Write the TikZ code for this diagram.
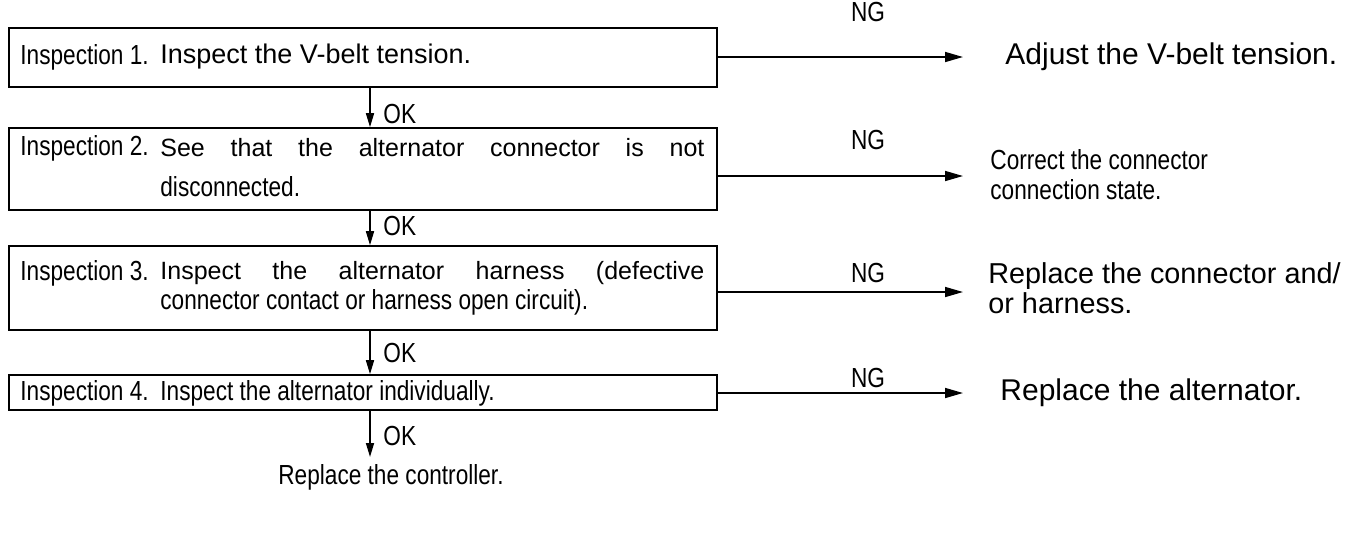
\documentclass[tikz,border=0pt]{standalone}
\usepackage{fontspec}
\setmainfont{Liberation Sans}
\newfontfamily\narrowf[FakeStretch=0.82]{Liberation Sans}
\usetikzlibrary{fit,arrows.meta}
\begin{document}
\begin{tikzpicture}[x=0.5pt,y=-0.5pt,
  box/.style={draw,line width=0.8pt,inner sep=0pt,fit={#1}},
  txt/.style={inner sep=0pt,anchor=west,font=\narrowf\fontsize{13.8}{15}\selectfont},
  ngl/.style={inner sep=0pt,font=\narrowf\fontsize{13.8}{15}\selectfont},
  harr/.style={line width=0.8pt,-{Triangle[length=9pt,width=5pt]}},
  varr/.style={line width=0.8pt,-{Triangle[length=7pt,width=4pt]}}]
\useasboundingbox (0,0) rectangle (1349,547);
% boxes
\node[box={(9,28) (717,87)}] (b1) {};
\node[box={(9,128) (717,210)}] (b2) {};
\node[box={(9,246) (717,330)}] (b3) {};
\node[box={(9,375) (717,410)}] (b4) {};
% box texts
\node[txt] (l1) at (20,57) {Inspection 1.};
\node[txt,font=\fontsize{13.5}{15}\selectfont] (t1) at (160,57) {Inspect the V-belt tension.};
\node[txt] (l2) at (20,148) {Inspection 2.};
\node[txt,align=left,font=\narrowf\fontsize{13.8}{20}\selectfont] (t2) at (160,168) {\makebox[272pt][s]{\rmfamily\fontsize{12.5}{20}\selectfont See that the alternator connector is not}\\disconnected.};
\node[txt] (l3) at (20,273) {Inspection 3.};
\node[txt,align=left] (t3) at (160,288) {\makebox[272pt][s]{\rmfamily\fontsize{12.5}{15}\selectfont Inspect the alternator harness (defective}\\connector contact or harness open circuit).};
\node[txt] (l4) at (20,393) {Inspection 4.};
\node[txt] (t4) at (160,393) {Inspect the alternator individually.};
% results
\node[txt,font=\fontsize{15}{17}\selectfont] (r1) at (1005,57) {Adjust the V-belt tension.};
\node[txt,align=left] (r2) at (990,175) {Correct the connector\\connection state.};
\node[txt,align=left,font=\fontsize{14.4}{15}\selectfont] (r3) at (988,288) {Replace the connector and/\\or harness.};
\node[txt,font=\fontsize{15}{17}\selectfont] (r4) at (1000,393) {Replace the alternator.};
\node[ngl] (r5) at (391,477) {Replace the controller.};
% NG arrows
\coordinate (e1) at (963,57);
\coordinate (e2) at (963,176);
\coordinate (e3) at (963,292);
\coordinate (e4) at (963,393);
\draw[harr] (b1.east |- e1) -- (e1);
\draw[harr] (b2.east |- e2) -- (e2);
\draw[harr] (b3.east |- e3) -- (e3);
\draw[harr] (b4.east |- e4) -- (e4);
\node[ngl] (ng1) at (868,12) {NG};
\node[ngl] (ng2) at (868,140) {NG};
\node[ngl] (ng3) at (868,273) {NG};
\node[ngl] (ng4) at (868,378) {NG};
% OK arrows
\coordinate (c) at (370,0);
\coordinate (e5) at (370,457);
\draw[varr] (b1.south -| c) -- (b2.north -| c);
\draw[varr] (b2.south -| c) -- (b3.north -| c);
\draw[varr] (b3.south -| c) -- (b4.north -| c);
\draw[varr] (b4.south -| c) -- (e5);
\node[txt] (ok1) at (383,114) {OK};
\node[txt] (ok2) at (383,226) {OK};
\node[txt] (ok3) at (383,353) {OK};
\node[txt] (ok4) at (383,436) {OK};
\end{tikzpicture}
\end{document}
